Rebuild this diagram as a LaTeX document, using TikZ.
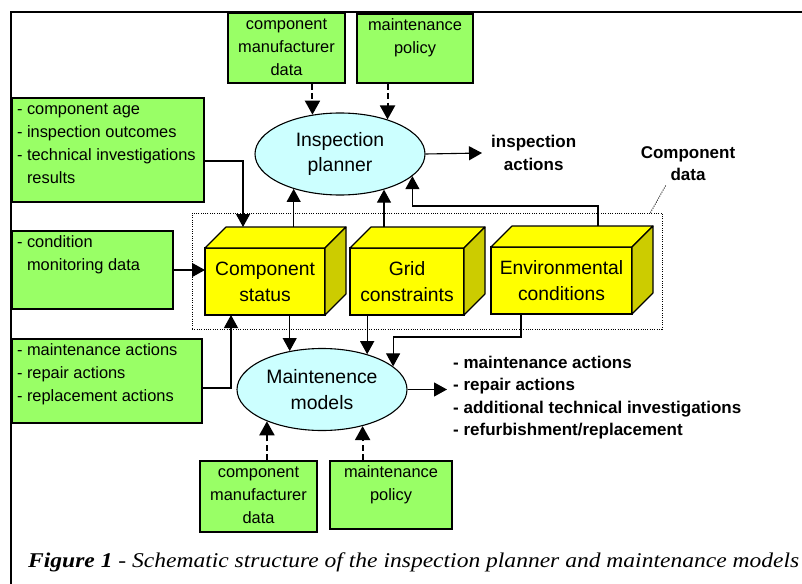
\documentclass[tikz,border=0pt]{standalone}
\usepackage{fontspec}
\setmainfont{Liberation Sans}
\newfontfamily\capfont{Liberation Serif}
\usetikzlibrary{arrows.meta,shapes.geometric,calc}

\definecolor{boxgreen}{RGB}{153,255,102}
\definecolor{ellcyan}{RGB}{204,255,255}
\definecolor{cubeyellow}{RGB}{255,255,0}
\definecolor{cubeside}{RGB}{204,204,0}

% top and right faces of a 3-D block whose front face is node #1
\newcommand\cubefaces[1]{%
  \filldraw[cubeface, fill=cubeyellow] (#1.north west) -- ([xshift=21pt,yshift=21pt]#1.north west)
    -- ([xshift=21pt,yshift=21pt]#1.north east) -- (#1.north east) -- cycle;
  \filldraw[cubeface, fill=cubeside] (#1.north east) -- ([xshift=21pt,yshift=21pt]#1.north east)
    -- ([xshift=21pt,yshift=21pt]#1.south east) -- (#1.south east) -- cycle;}

\begin{document}
\begin{tikzpicture}[x=1pt,y=-1pt,
  gbox/.style={draw, line width=1.1pt, fill=boxgreen, inner sep=0pt,
    font=\fontsize{16.4}{23}\selectfont},
  ell/.style={ellipse, draw, line width=1.1pt, fill=ellcyan, inner sep=0pt,
    minimum width=170pt, minimum height=82pt, align=center,
    font=\fontsize{19.4}{25.5}\selectfont},
  cube/.style={draw, line width=1.1pt, fill=cubeyellow, inner sep=0pt, outer sep=0pt,
    minimum height=67pt, align=center, font=\fontsize{19.3}{26}\selectfont},
  cubeface/.style={draw, line width=1.1pt, line join=round},
  outlbl/.style={font=\fontsize{17}{22.5}\selectfont\bfseries, inner sep=0pt},
  arr/.style={line width=1.1pt, -{Triangle[length=13pt,width=14pt]}},
  darr/.style={line width=2pt, dash pattern=on 6pt off 3.5pt,
    -{Triangle[length=14pt,width=15pt]}},
  dotbox/.style={draw, line width=0.9pt, dash pattern=on 1pt off 1.3pt}
]
\useasboundingbox (0,0) rectangle (802,583);

% outer frame
\draw[line width=2pt] (11,600) -- (11,12) -- (820,12);

% component data group
\node[dotbox, minimum width=470pt, minimum height=116pt, inner sep=0pt] (cd) at (427,271) {};
\node[outlbl, align=center] (cdl) at (688,163.5) {Component\\data};
\draw[dotbox] ([xshift=-12pt]cd.north east) -- ([xshift=-22pt,yshift=-4pt]cdl.south);

% input boxes, top
\node[gbox] (cmd1) at (286.5,48)
  {\parbox[c][70pt][t]{117pt}{\centering\strut component\\manufacturer\\data}};
\node[gbox] (mp1) at (415,48.5)
  {\parbox[c][69pt][t]{116pt}{\centering\strut maintenance\\policy}};

% input boxes, left
\node[gbox, minimum width=192pt] (ib) at (108,150)
  {\parbox[c][104pt][t]{182pt}{\raggedright\strut- component age\\- inspection outcomes\\- technical investigations\\\phantom{- }results}};
\node[gbox, minimum width=161pt] (cm) at (92.5,270)
  {\parbox[c][78pt][t]{151pt}{\raggedright\strut- condition\\\phantom{- }monitoring data}};
\node[gbox, minimum width=190pt] (bl) at (107,381)
  {\parbox[c][84pt][t]{180pt}{\raggedright\strut- maintenance actions\\- repair actions\\- replacement actions}};

% input boxes, bottom
\node[gbox] (cmd2) at (258.5,496.5)
  {\parbox[c][71pt][t]{117pt}{\centering\strut component\\manufacturer\\data}};
\node[gbox] (mp2) at (391,495)
  {\parbox[c][68pt][t]{122pt}{\centering\strut maintenance\\policy}};

% component data blocks
\node[cube, minimum width=120pt] (cs) at (265,281.5) {Component\\status};
\cubefaces{cs}
\node[cube, minimum width=114pt] (gc) at (407,281.5) {Grid\\constraints};
\cubefaces{gc}
\node[cube, minimum width=141pt] (ec) at (561.5,280.5) {Environmental\\conditions};
\cubefaces{ec}
\coordinate (csT) at ([xshift=21pt,yshift=21pt]cs.north west);

% models
\node[ell] (ip) at (340,154) {Inspection\\planner};
\node[ell] (mm) at (322,389.5) {Maintenence\\models};

% outputs
\node[outlbl, align=center, anchor=west, inner xsep=9pt] (ia) at (482,153) {inspection\\actions};
\node[outlbl, align=left, anchor=west, inner xsep=6pt] (mo) at (447,397.5)
  {- maintenance actions\\- repair actions\\- additional technical investigations\\- refurbishment/replacement};

% connectors into the inspection planner
\draw[darr] (ip.125 |- cmd1.south) -- (ip.125);
\draw[darr] (ip.36 |- mp1.south) -- (ip.36);
\draw[arr] (ip.-143 |- csT) -- (ip.-143);
\draw[arr] (ip.-39.5 |- csT) -- (ip.-39.5);
\draw[arr] ([xshift=36.5pt,yshift=21pt]ec.north) -- ++(0,-20) -| (ip.-17);
\draw[arr] (ip.east) -- (ia.west);

% connectors into the component status
\draw[arr] ([yshift=-11pt]ib.east) -| ([xshift=17pt]csT);
\draw[arr] (cm.east) -- (cm.east -| cs.west);
\draw[arr] ([yshift=-7pt]bl.east) -| ([xshift=26pt]cs.south west);

% connectors into the maintenance models
\draw[arr] (mm.130 |- cs.south) -- (mm.130);
\draw[arr] (mm.38 |- gc.south) -- (mm.38);
\draw[arr] ([xshift=-40.5pt]ec.south) -- ++(0,23) -| (mm.18);
\draw[darr] (mm.-150 |- cmd2.north) -- (mm.-150);
\draw[darr] (mm.-42.5 |- mp2.north) -- (mm.-42.5);
\draw[arr] (mm.east) -- (mm.east -| mo.west);

% caption
\node[anchor=base west, inner sep=0pt, font=\capfont\fontsize{21}{25}\selectfont\itshape] (cap) at (28,567)
  {\resizebox{771pt}{\height}{\textbf{Figure 1} - Schematic structure of the inspection planner and maintenance models}};
\end{tikzpicture}
\end{document}
